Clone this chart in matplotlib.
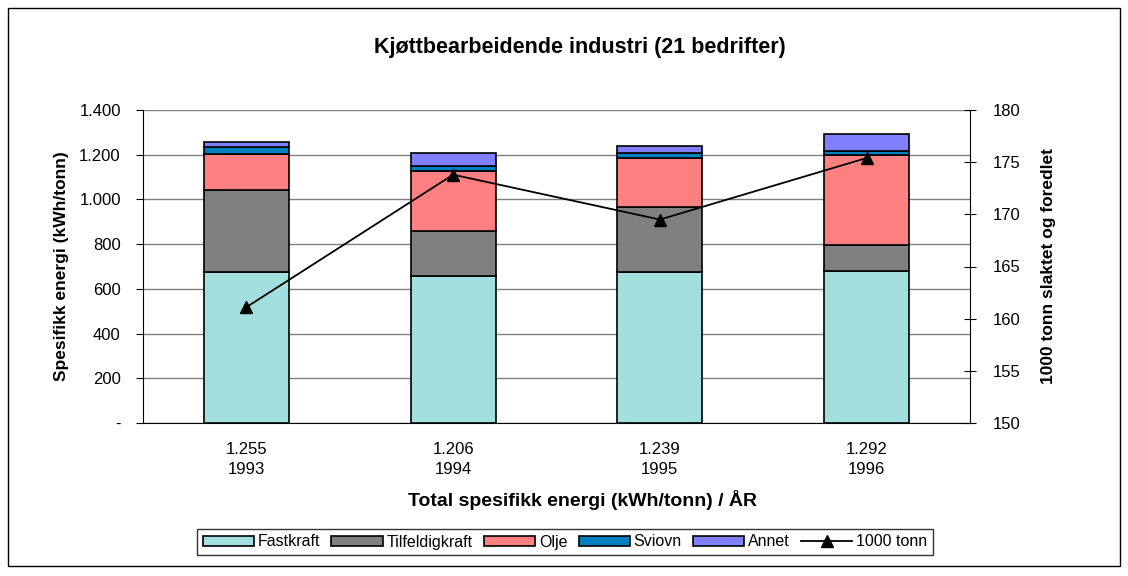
import matplotlib
matplotlib.use("Agg")
import matplotlib.pyplot as plt
from matplotlib.ticker import FuncFormatter, MultipleLocator
from matplotlib.patches import Rectangle

plt.rcParams['font.family'] = ['Liberation Sans', 'DejaVu Sans']

years = ["1993", "1994", "1995", "1996"]
totals = ["1.255", "1.206", "1.239", "1.292"]
fastkraft = [677, 657, 674, 681]
tilfeldigkraft = [365, 203, 293, 116]
olje = [161, 267, 217, 403]
sviovn = [30, 24, 22, 18]
annet = [22, 55, 33, 74]
tonn = [161.1, 173.8, 169.5, 175.4]

series = [("Fastkraft", fastkraft, "#a4dfe0"),
          ("Tilfeldigkraft", tilfeldigkraft, "#808080"),
          ("Olje", olje, "#ff8080"),
          ("Sviovn", sviovn, "#0080c0"),
          ("Annet", annet, "#8080ff")]

fig = plt.figure(figsize=(11.28, 5.76), dpi=100)
fig.patches.append(Rectangle((8/1128, 1-566/576), 1112/1128, 558/576,
                             transform=fig.transFigure, fill=False,
                             edgecolor='black', linewidth=1))
ax = fig.add_axes([143/1128, 1-423/576, 827/1128, 313/576])
x = list(range(len(years)))
bottom = [0]*len(years)
handles = []
for name, vals, col in series:
    b = ax.bar(x, vals, width=0.41, bottom=bottom, color=col,
               edgecolor='black', linewidth=1.2, label=name, zorder=3)
    handles.append(b)
    bottom = [bb + v for bb, v in zip(bottom, vals)]

ax.set_xlim(-0.5, len(years)-0.5)
ax.set_ylim(0, 1400)
ax.yaxis.set_major_locator(MultipleLocator(200))
def fmt(v, pos):
    if v == 0:
        return "-"
    return f"{int(v):,}".replace(",", ".")
ax.yaxis.set_major_formatter(FuncFormatter(fmt))
ax.grid(axis='y', color='#808080', linewidth=1, zorder=0)
ax.set_xticks(x)
ax.set_xticklabels([f"{t}\n{y}" for t, y in zip(totals, years)], fontsize=12,
                   linespacing=1.4)
ax.tick_params(axis='x', length=0, pad=14)
ax.tick_params(axis='y', labelsize=12, direction='out', length=5, pad=11)
for sp in ['top', 'right']:
    ax.spines[sp].set_visible(False)
ax.set_ylabel("Spesifikk energi (kWh/tonn)", fontsize=12.5, fontweight='bold', labelpad=7)
ax.set_xlabel("Total spesifikk energi (kWh/tonn) / ÅR", fontsize=14, fontweight='bold')
ax.xaxis.set_label_coords((582 - 143) / 827, -(500 - 423) / 313)
ax.xaxis.label.set_va('center')

ax2 = ax.twinx()
ax2.set_ylim(150, 180)
ax2.yaxis.set_major_locator(MultipleLocator(5))
for sp in ['top', 'left', 'bottom']:
    ax2.spines[sp].set_visible(False)
ax2.tick_params(axis='y', direction='inout', length=9, labelsize=12, pad=12)
ln, = ax2.plot(x, tonn, color='black', marker='^', markersize=8, linewidth=1.3,
               label="1000 tonn", zorder=5)
ax2.set_ylabel("1000 tonn slaktet og foredlet", fontsize=12.5, fontweight='bold', labelpad=15)

fig.text(580/1128, 1-48/576, "Kjøttbearbeidende industri (21 bedrifter)",
         ha='center', va='center', fontsize=15.5, fontweight='bold')

leg = fig.legend(handles + [ln], [s[0] for s in series] + ["1000 tonn"],
                 loc='center', bbox_to_anchor=(565/1128, 1-542/576), ncol=6,
                 fontsize=11.5, frameon=True, fancybox=False, edgecolor='black',
                 handlelength=3.2, handleheight=0.6, handletextpad=0.25,
                 columnspacing=0.7, borderpad=0.35)
leg.get_frame().set_linewidth(1)

fig.savefig("out.png", dpi=100)
